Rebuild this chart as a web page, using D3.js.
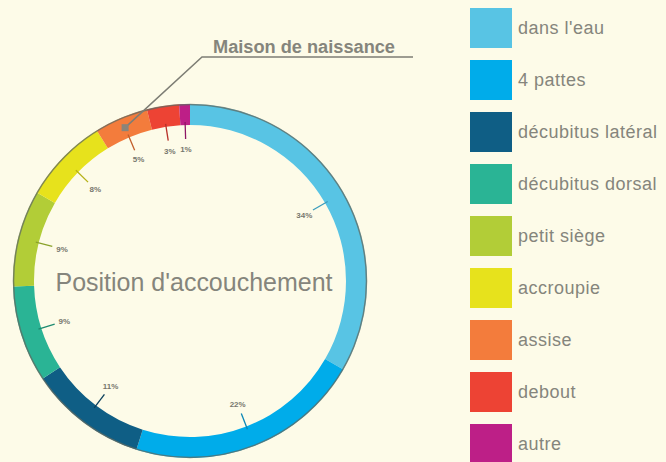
<!DOCTYPE html>
<html>
<head>
<meta charset="utf-8">
<script src="https://cdn.jsdelivr.net/npm/d3@7"></script>
<style>
  body { margin: 0; background: #fdfbe8; }
  svg { display: block; }
  text { font-family: "Liberation Sans Narrow", "Liberation Sans", Arial, sans-serif; fill: #85857c; }
</style>
</head>
<body>
<script>
// Data
var positions = ["dans l'eau", "4 pattes", "décubitus latéral", "décubitus dorsal", "petit siège", "accroupie", "assise", "debout", "autre"];
var percents = [34, 22, 11, 9, 9, 8, 5, 3, 1];
var colors = ["#58c4e4", "#00acea", "#0f5e85", "#2ab495", "#b2cd37", "#e7e21c", "#f37c3c", "#ed4334", "#bd1f87"];
var leaderColors = ["#3a9cbd", "#0a86b6", "#0b3f5c", "#1d8a70", "#8aa22a", "#b6b116", "#c25e2a", "#b8322a", "#8e1665"];
var title = "Position d'accouchement";
var note = "Maison de naissance";
var noteIndex = 6; // assise

var w = 666, h = 462;
var cx = 190, cy = 281;
var rOut = 177, rIn = 156;

var svg = d3.select("body").
append("svg").
attr("width", w).
attr("height", h);

var g = svg.append("g").
attr("transform", "translate(" + cx + "," + cy + ")");

var pie = d3.pie().sort(null).value(function (d) {return d;});
var arcs = pie(percents);

var arc = d3.arc().innerRadius(rIn).outerRadius(rOut);

// Ring
g.selectAll("path.seg").
data(arcs).
enter().
append("path").
attr("class", "seg").
attr("d", arc).
style("fill", function (d, i) {return colors[i];});

// outer dark edge
g.append("circle").
attr("r", rOut - 0.5).
style("fill", "none").
style("stroke", "#5f6a62").
style("stroke-opacity", 0.75).
style("stroke-width", 1.5);

// Percent labels with leader lines
function pt(a, r) {return [Math.sin(a) * r, -Math.cos(a) * r];}
function mid(d) {return (d.startAngle + d.endAngle) / 2;}

g.selectAll("line.lead").
data(arcs).
enter().
append("line").
attr("class", "lead").
attr("x1", function (d) {return pt(mid(d), rIn + 3)[0];}).
attr("y1", function (d) {return pt(mid(d), rIn + 3)[1];}).
attr("x2", function (d) {return pt(mid(d), rIn - 14)[0];}).
attr("y2", function (d) {return pt(mid(d), rIn - 14)[1];}).
style("stroke", function (d, i) {return leaderColors[i];}).
style("stroke-width", 1.3);

g.selectAll("text.pct").
data(arcs).
enter().
append("text").
attr("class", "pct").
attr("x", function (d) {return pt(mid(d), rIn - 24)[0];}).
attr("y", function (d) {return pt(mid(d), rIn - 24)[1] + 3;}).
attr("text-anchor", "middle").
style("font-size", "8px").
style("font-weight", "bold").
style("fill", "#77776e").
text(function (d) {return d.data + "%";});

// Centre title
g.append("text").
attr("x", 4).
attr("y", 10).
attr("text-anchor", "middle").
attr("textLength", 277).
attr("lengthAdjust", "spacingAndGlyphs").
style("font-size", "25px").
text(title);

// Annotation "Maison de naissance"
var na = arcs[noteIndex];
var np = pt(mid(na), (rIn + rOut) / 2);
var ax = 202 - cx, ay = 57 - cy;

g.append("polyline").
attr("points", [[np[0], np[1]], [ax, ay], [413 - cx, ay]].map(function (p) {return p.join(",");}).join(" ")).
style("fill", "none").
style("stroke", "#7d7d74").
style("stroke-width", 1.5);

g.append("rect").
attr("x", np[0] - 3.5).
attr("y", np[1] - 3.5).
attr("width", 7).
attr("height", 7).
style("fill", "#8a8479");

g.append("text").
attr("x", 213 - cx).
attr("y", ay - 4).
attr("textLength", 182).
attr("lengthAdjust", "spacingAndGlyphs").
style("font-size", "18px").
style("font-weight", "bold").
text(note);

// Legend
var legend = svg.selectAll(".legend").
data(positions).
enter().
append("g").
attr("class", "legend").
attr("transform", function (d, i) {return "translate(470," + (8 + 52 * i) + ")";});

legend.append("rect").
attr("width", 42).
attr("height", 40).
style("fill", function (d, i) {return colors[i];});

legend.append("text").
attr("x", 48).
attr("y", 26).
style("font-size", "18px").
style("letter-spacing", "0.5px").
text(function (d) {return d;});
</script>
</body>
</html>
